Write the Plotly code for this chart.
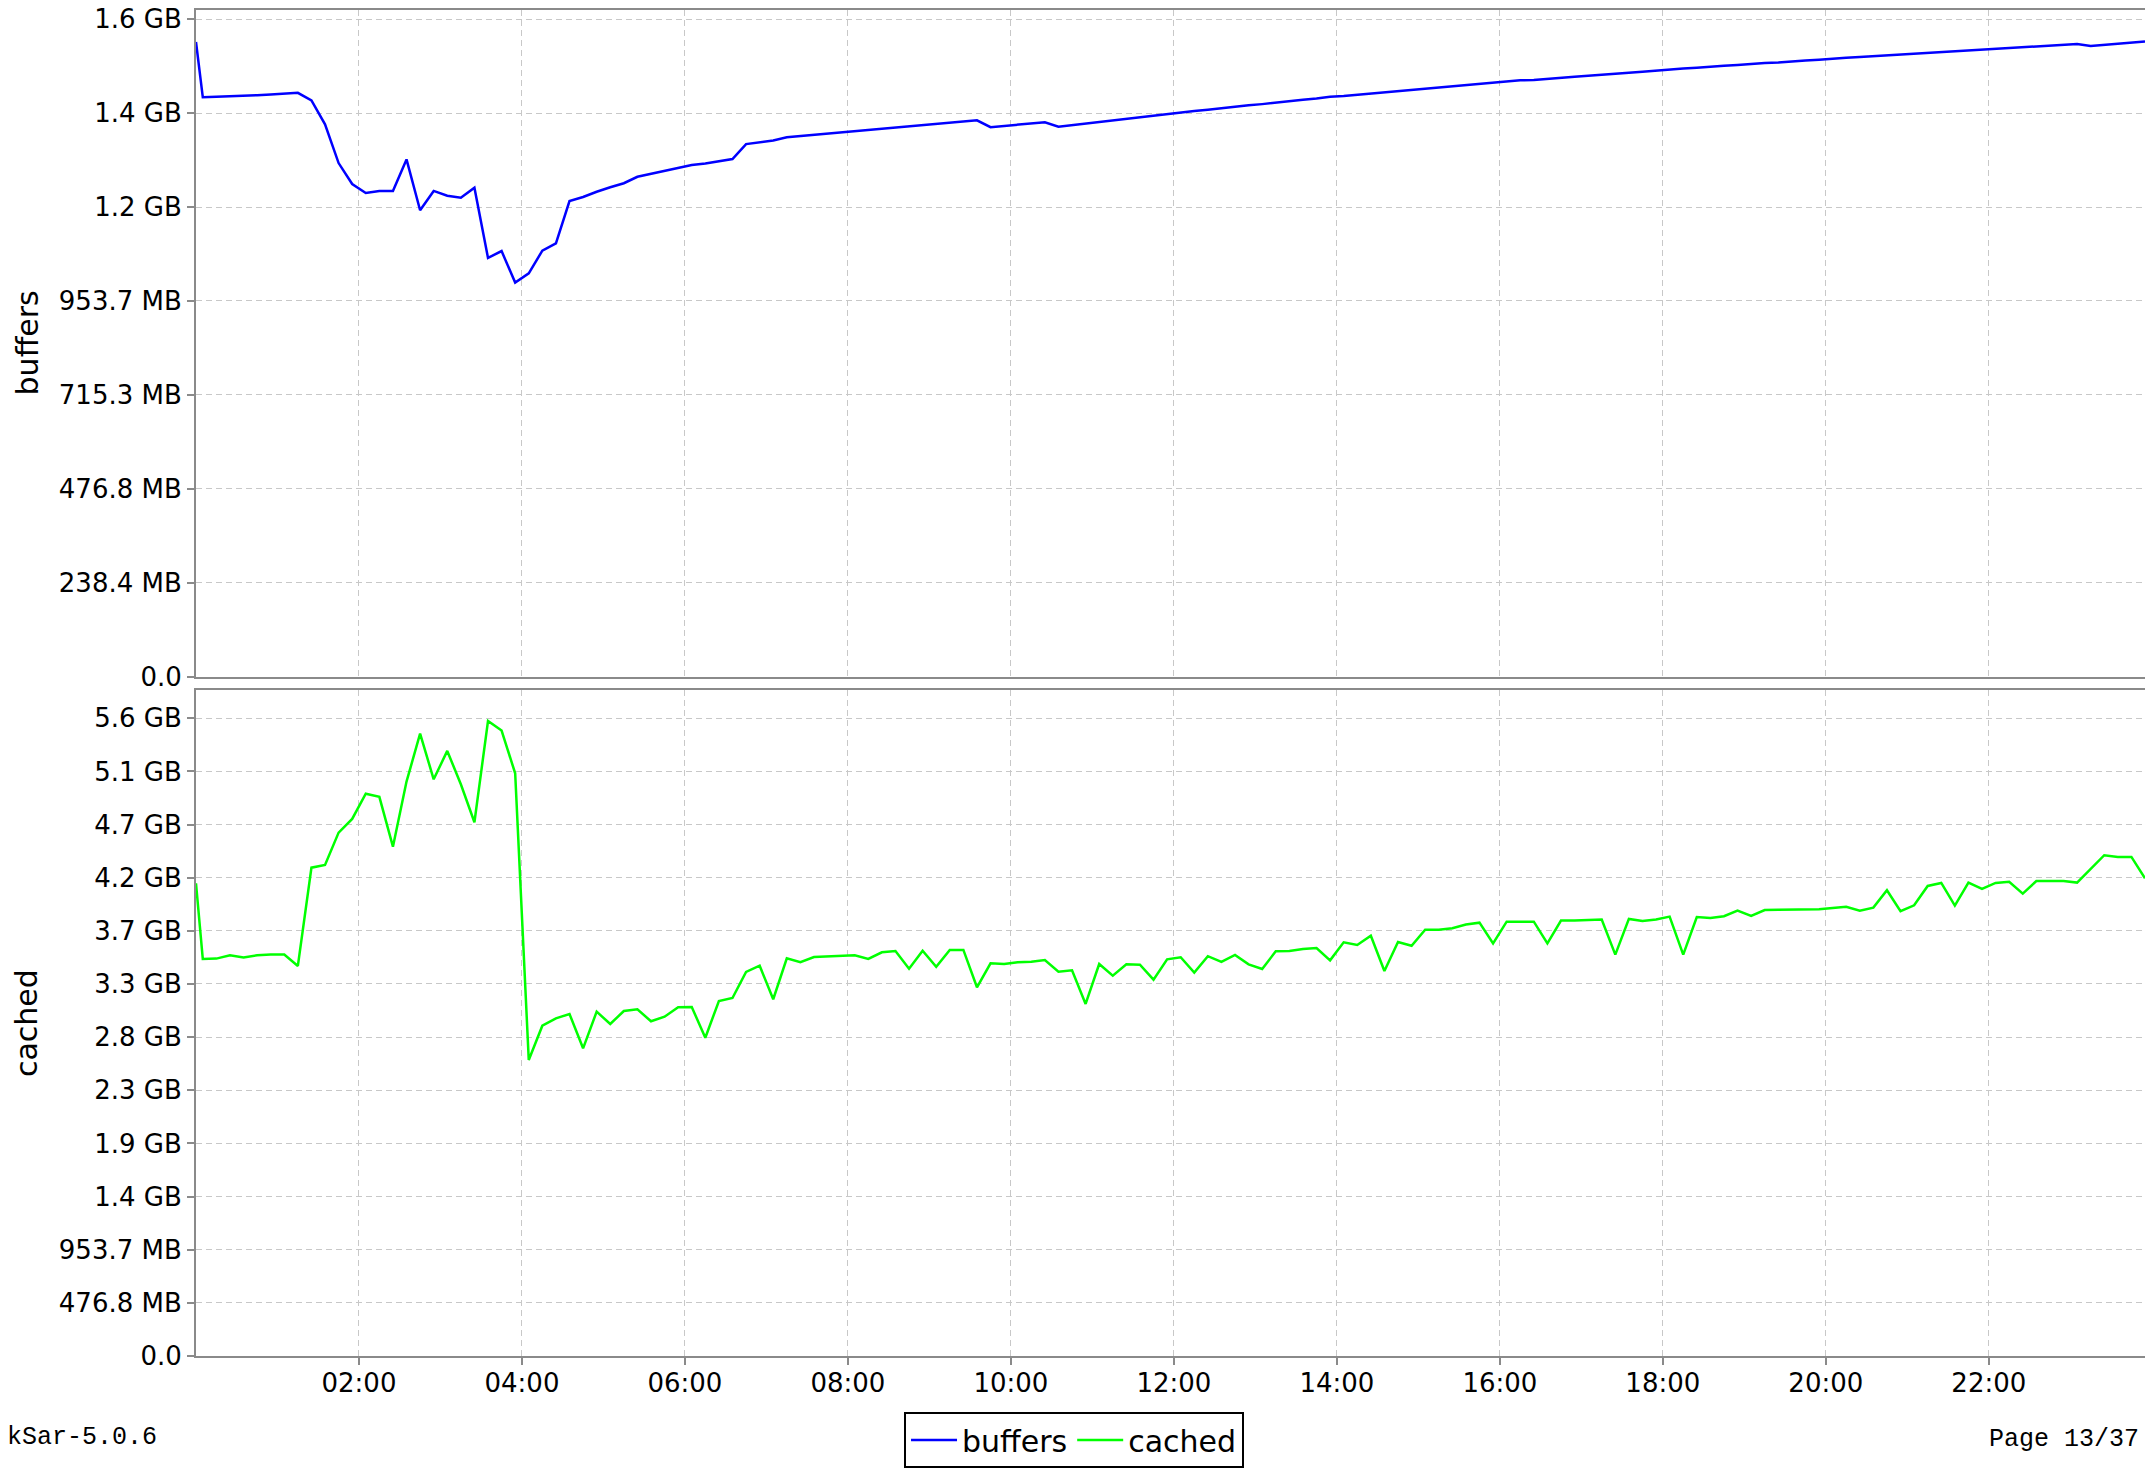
import numpy as np
import pandas as pd
import plotly.graph_objects as go

GIB = 2 ** 30

# sar samples: one record at midnight, then every 10 minutes from 00:05
times = ["2000-01-01 00:00"] + [
    t.strftime("%Y-%m-%d %H:%M") for t in pd.date_range("2000-01-01 00:05", periods=144, freq="10min")
]

# values, in GiB
buffers_gib = [
    1.573, 1.436, 1.437, 1.438, 1.440, 1.441, 1.443, 1.445, 1.447, 1.428,
    1.369, 1.273, 1.221, 1.199, 1.204, 1.204, 1.282, 1.156, 1.204, 1.192,
    1.187, 1.212, 1.038, 1.055, 0.977, 1.000, 1.056, 1.074, 1.179, 1.189,
    1.202, 1.213, 1.223, 1.239, 1.246, 1.254, 1.261, 1.268, 1.272, 1.277,
    1.283, 1.320, 1.324, 1.329, 1.337, 1.340, 1.343, 1.346, 1.349, 1.352,
    1.354, 1.357, 1.360, 1.364, 1.367, 1.370, 1.373, 1.376, 1.379, 1.362,
    1.365, 1.368, 1.371, 1.374, 1.363, 1.367, 1.371, 1.375, 1.379, 1.383,
    1.387, 1.391, 1.395, 1.398, 1.402, 1.405, 1.409, 1.412, 1.416, 1.419,
    1.423, 1.426, 1.430, 1.433, 1.437, 1.439, 1.442, 1.445, 1.448, 1.451,
    1.454, 1.457, 1.460, 1.463, 1.466, 1.469, 1.473, 1.475, 1.478, 1.479,
    1.482, 1.484, 1.487, 1.489, 1.492, 1.494, 1.497, 1.499, 1.502, 1.505,
    1.507, 1.509, 1.512, 1.514, 1.516, 1.519, 1.521, 1.522, 1.525, 1.527,
    1.529, 1.532, 1.534, 1.536, 1.538, 1.540, 1.542, 1.544, 1.546, 1.548,
    1.550, 1.552, 1.554, 1.557, 1.559, 1.561, 1.563, 1.564, 1.566, 1.568,
    1.563, 1.566, 1.569, 1.572, 1.574,
]

cached_gib = [
    4.142, 3.479, 3.482, 3.511, 3.491, 3.511, 3.517, 3.517, 3.418, 4.279,
    4.303, 4.586, 4.706, 4.927, 4.899, 4.463, 5.033, 5.453, 5.053, 5.302,
    5.010, 4.677, 5.564, 5.480, 5.106, 2.594, 2.894, 2.959, 2.997, 2.696,
    3.017, 2.909, 3.023, 3.038, 2.933, 2.973, 3.056, 3.058, 2.789, 3.111,
    3.137, 3.365, 3.420, 3.126, 3.485, 3.450, 3.496, 3.503, 3.505, 3.511,
    3.479, 3.537, 3.549, 3.394, 3.552, 3.411, 3.558, 3.558, 3.231, 3.441,
    3.435, 3.450, 3.455, 3.470, 3.368, 3.380, 3.085, 3.435, 3.333, 3.432,
    3.429, 3.298, 3.476, 3.494, 3.359, 3.503, 3.453, 3.514, 3.432, 3.391,
    3.546, 3.549, 3.567, 3.575, 3.467, 3.625, 3.602, 3.683, 3.374, 3.628,
    3.595, 3.736, 3.736, 3.748, 3.780, 3.797, 3.616, 3.806, 3.806, 3.806,
    3.616, 3.815, 3.815, 3.818, 3.824, 3.517, 3.830, 3.812, 3.824, 3.850,
    3.517, 3.847, 3.838, 3.853, 3.902, 3.856, 3.908, 3.911, 3.914, 3.914,
    3.914, 3.926, 3.937, 3.902, 3.929, 4.081, 3.897, 3.949, 4.119, 4.145,
    3.946, 4.148, 4.092, 4.145, 4.156, 4.051, 4.162, 4.162, 4.162, 4.148,
    4.268, 4.388, 4.373, 4.373, 4.186,
]

buffers_tickvals = [0, 250e6, 500e6, 750e6, 1000e6, 1250e6, 1500e6, 1750e6]
buffers_ticktext = ["0.0", "238.4 MB", "476.8 MB", "715.3 MB", "953.7 MB", "1.2 GB", "1.4 GB", "1.6 GB"]

cached_tickvals = [0, 0.5e9, 1e9, 1.5e9, 2e9, 2.5e9, 3e9, 3.5e9, 4e9, 4.5e9, 5e9, 5.5e9, 6e9]
cached_ticktext = ["0.0", "476.8 MB", "953.7 MB", "1.4 GB", "1.9 GB", "2.3 GB", "2.8 GB",
                   "3.3 GB", "3.7 GB", "4.2 GB", "4.7 GB", "5.1 GB", "5.6 GB"]

hour_tickvals = [f"2000-01-01 {h:02d}:00" for h in range(2, 24, 2)]
hour_ticktext = [f"{h:02d}:00" for h in range(2, 24, 2)]

FONT = "DejaVu Sans"
MONO = "Liberation Mono"
GRID = "#c8c8c8"
AXIS = "#8a8a8a"

fig = go.Figure()
fig.add_trace(go.Scatter(
    x=times, y=np.array(buffers_gib) * GIB, mode="lines", name="buffers",
    line={"color": "#0000ff", "width": 2.5}, xaxis="x", yaxis="y",
))
fig.add_trace(go.Scatter(
    x=times, y=np.array(cached_gib) * GIB, mode="lines", name="cached",
    line={"color": "#00ff00", "width": 2.5}, xaxis="x2", yaxis="y2",
))

x_common = dict(
    type="date",
    range=["2000-01-01 00:00", "2000-01-01 23:55"],
    tickvals=hour_tickvals,
    ticktext=hour_ticktext,
    showgrid=True, gridcolor=GRID, gridwidth=1, griddash="6px,4px",
    showline=True, linecolor=AXIS, linewidth=2, mirror=True,
    zeroline=False,
    tickfont={"family": FONT, "size": 26, "color": "black"},
)
y_common = dict(
    showgrid=True, gridcolor=GRID, gridwidth=1, griddash="6px,4px",
    showline=True, linecolor=AXIS, linewidth=2,
    ticks="outside", ticklen=7, tickcolor=AXIS, tickwidth=2,
    zeroline=False,
    tickfont={"family": FONT, "size": 26, "color": "black"},
)

fig.update_layout(
    width=2147,
    height=1468,
    paper_bgcolor="white",
    plot_bgcolor="white",
    margin={"l": 196, "r": 2, "t": 10, "b": 112, "autoexpand": False},
    xaxis=dict(x_common, anchor="y", showticklabels=False, ticks=""),
    yaxis=dict(y_common, domain=[0.5045, 1.0], range=[0, 1.774e9],
               tickvals=buffers_tickvals, ticktext=buffers_ticktext),
    xaxis2=dict(x_common, anchor="y2", matches="x", ticks="outside", ticklen=7,
                tickcolor=AXIS, tickwidth=2, ticklabelstandoff=-4),
    yaxis2=dict(y_common, domain=[0.0, 0.4948], range=[0, 6.266e9],
                tickvals=cached_tickvals, ticktext=cached_ticktext),
    showlegend=True,
    legend={
        "orientation": "h",
        "x": 0.4505, "xanchor": "center",
        "y": -0.0416, "yanchor": "top",
        "bordercolor": "black", "borderwidth": 2,
        "itemwidth": 46,
        "font": {"family": FONT, "size": 30, "color": "black"},
    },
    annotations=[
        dict(text="buffers", textangle=-90, x=-0.0867, xanchor="center", y=0.7523, yanchor="middle",
             xref="paper", yref="paper", showarrow=False,
             font={"family": FONT, "size": 30, "color": "black"}),
        dict(text="cached", textangle=-90, x=-0.0867, xanchor="center", y=0.2474, yanchor="middle",
             xref="paper", yref="paper", showarrow=False,
             font={"family": FONT, "size": 30, "color": "black"}),
        dict(text="kSar-5.0.6", x=-0.0980, xanchor="left", y=-0.0606, yanchor="middle",
             xref="paper", yref="paper", showarrow=False,
             font={"family": MONO, "size": 25, "color": "black"}),
        dict(text="Page 13/37", x=0.9982, xanchor="right", y=-0.0617, yanchor="middle",
             xref="paper", yref="paper", showarrow=False,
             font={"family": MONO, "size": 25, "color": "black"}),
    ],
)

fig.write_html(
    "out.html",
    config={"displayModeBar": False},
    post_script="document.body.style.margin = '0px';",
)
